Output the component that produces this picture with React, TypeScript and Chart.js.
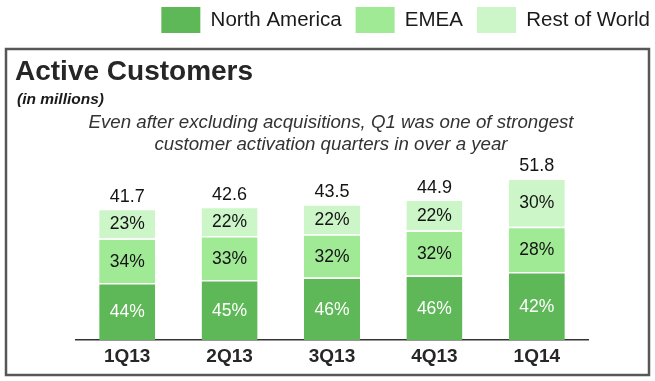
import { useEffect, useRef } from "react";
import { Chart, registerables } from "chart.js";

Chart.register(...registerables);

// ---- data ----
const quarters = ["1Q13", "2Q13", "3Q13", "4Q13", "1Q14"];
const totalCustomers = [41.7, 42.6, 43.5, 44.9, 51.8];
const northAmericaShare = [44, 45, 46, 46, 42];
const emeaShare = [34, 33, 32, 32, 28];
const restOfWorldShare = [23, 22, 22, 22, 30];
// segment sizes in millions (read as share of each total)
const northAmerica = [18.3, 19.2, 20.0, 20.7, 21.8];
const emea = [14.2, 14.1, 13.9, 14.4, 14.5];
const restOfWorld = [9.6, 9.4, 9.6, 9.9, 15.5];

const seriesNames = ["North America", "EMEA", "Rest of World"];
const seriesColors = ["#5eb858", "#a0ea96", "#ccf6c8"];
const titleText = "Active Customers";
const unitText = "(in millions)";
const subtitleLines = [
  "Even after excluding acquisitions, Q1 was one of strongest",
  "customer activation quarters in over a year",
];

const FONT = "'Liberation Sans', Arial, Helvetica, sans-serif";

export default function App() {
  const ref = useRef<HTMLCanvasElement | null>(null);

  useEffect(() => {
    if (!ref.current) return;
    const shares = [northAmericaShare, emeaShare, restOfWorldShare];

    const labelPlugin = {
      id: "segmentLabels",
      afterDatasetsDraw(chart: any) {
        const ctx = chart.ctx;
        ctx.save();
        ctx.textAlign = "center";
        chart.data.datasets.forEach((_ds: any, d: number) => {
          const meta = chart.getDatasetMeta(d);
          meta.data.forEach((bar: any, i: number) => {
            const p = bar.getProps(["x", "y", "base"], true);
            ctx.font = `17.5px ${FONT}`;
            ctx.fillStyle = d === 0 ? "#ffffff" : "#141414";
            ctx.textBaseline = "middle";
            ctx.fillText(shares[d][i] + "%", p.x, (p.y + p.base) / 2 + 1);
          });
        });
        const topMeta = chart.getDatasetMeta(chart.data.datasets.length - 1);
        topMeta.data.forEach((bar: any, i: number) => {
          const p = bar.getProps(["x", "y"], true);
          ctx.font = `18px ${FONT}`;
          ctx.fillStyle = "#141414";
          ctx.textBaseline = "alphabetic";
          ctx.fillText(totalCustomers[i].toFixed(1), p.x, p.y - 7);
        });
        ctx.restore();
      },
    };

    const framePlugin = {
      id: "frameAndTitles",
      afterDraw(chart: any) {
        const ctx = chart.ctx;
        ctx.save();
        ctx.strokeStyle = "#575757";
        ctx.lineWidth = 2.5;
        ctx.strokeRect(6, 49, 643, 326);

        ctx.textBaseline = "alphabetic";
        ctx.textAlign = "left";
        ctx.fillStyle = "#262626";
        ctx.font = `bold 28px ${FONT}`;
        ctx.fillText(titleText, 15, 80);

        ctx.font = `italic bold 15.5px ${FONT}`;
        ctx.fillStyle = "#1a1a1a";
        ctx.fillText(unitText, 17, 104);

        ctx.font = `italic 18.7px ${FONT}`;
        ctx.fillStyle = "#333333";
        ctx.textAlign = "center";
        subtitleLines.forEach((line, k) => {
          ctx.fillText(line, 331, 128 + k * 22);
        });
        ctx.restore();
      },
    };

    const values = [northAmerica, emea, restOfWorld];

    const chart = new Chart(ref.current, {
      type: "bar",
      data: {
        labels: quarters,
        datasets: seriesNames.map((name, k) => ({
          label: name,
          data: values[k],
          backgroundColor: seriesColors[k],
          borderColor: "#ffffff",
          borderWidth: { top: 1.5, left: 0, right: 0, bottom: 0 },
          borderSkipped: false,
          barPercentage: 0.547,
          categoryPercentage: 1,
        })),
      },
      options: {
        responsive: false,
        animation: false,
        layout: { padding: { top: -7, left: 76, right: -9, bottom: 8.2 } },
        plugins: {
          tooltip: { enabled: false },
          title: { display: false },
          legend: {
            display: true,
            position: "top",
            align: "end",
            labels: {
              boxWidth: 39,
              boxHeight: 26,
              padding: 14,
              color: "#1a1a1a",
              font: { family: FONT, size: 20.5 },
              generateLabels: (c: any) =>
                c.data.datasets.map((ds: any, i: number) => ({
                  text: ds.label,
                  fillStyle: ds.backgroundColor,
                  strokeStyle: "rgba(0,0,0,0)",
                  lineWidth: 0,
                  hidden: false,
                  datasetIndex: i,
                  fontColor: "#1a1a1a",
                })),
            },
          },
        },
        scales: {
          x: {
            stacked: true,
            grid: { display: false, drawTicks: false },
            border: { display: true, color: "#333333", width: 1.5 },
            ticks: {
              padding: 5,
              color: "#262626",
              font: { family: FONT, size: 19, weight: "bold" },
            },
          },
          y: {
            stacked: true,
            display: false,
            min: 0,
            max: 95.2,
          },
          yR: {
            type: "linear",
            position: "right",
            display: true,
            grid: { display: false, drawTicks: false },
            border: { display: false },
            ticks: { display: false },
            afterFit: (s: any) => {
              s.width = 76;
            },
          },
        },
      } as any,
      plugins: [labelPlugin, framePlugin],
    });

    return () => chart.destroy();
  }, []);

  return (
    <div
      style={{
        position: "fixed",
        left: 0,
        top: 0,
        width: 655,
        height: 381,
        background: "#ffffff",
      }}
    >
      <canvas ref={ref} width={655} height={381} style={{ display: "block" }} />
    </div>
  );
}
